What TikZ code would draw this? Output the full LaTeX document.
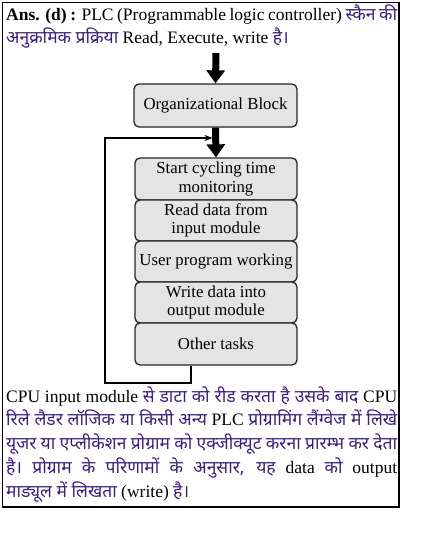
\documentclass[tikz,border=0pt]{standalone}
\usepackage{fontspec}
\setmainfont{Liberation Serif}
\newfontfamily\deva[Script=Devanagari]{Noto Sans}
\usetikzlibrary{arrows.meta}
\definecolor{hin}{RGB}{60,30,120}
\definecolor{boxfill}{RGB}{228,228,228}
\newcommand{\hi}[1]{{\deva\color{hin}#1}}
\begin{document}
\begin{tikzpicture}[x=1pt,y=-1pt,
  blk/.style={draw=black!85, fill=boxfill, rounded corners=5pt, line width=1.3pt,
    minimum width=162pt, inner sep=0pt, align=center,
    font=\fontsize{16.8}{18.5}\selectfont},
  txt/.style={anchor=base west, inner sep=0pt, font=\fontsize{17.5}{23}\selectfont},
  bigarrow/.style={line width=7pt, -{Triangle[width=18pt,length=13pt]}},
  looparrow/.style={line width=1.3pt, -{Stealth[length=8pt,width=6pt]}}]
\useasboundingbox (0,0) rectangle (446,538);
\draw[line width=1.2pt] (2.5,2.5) rectangle (399,507);

\node[txt] (t1) at (6,20) {\makebox[391pt][s]{\textbf{Ans. (d) :} PLC (Programmable logic controller) \hi{स्कैन की}}};
\node[txt] (t2) at (6,43) {\hi{अनुक्रमिक प्रक्रिया} Read, Execute, write \hi{है।}};

\node[blk, minimum width=163pt, minimum height=43pt] (ob) at (215.5,105.5) {Organizational Block};
\node[blk, minimum height=42pt] (s1) at (216,179) {Start cycling time\\monitoring};
\node[blk, minimum height=41pt] (s2) at (216,220.5) {Read data from\\input module};
\node[blk, minimum height=41pt] (s3) at (216,261.5) {User program working};
\node[blk, minimum height=41pt] (s4) at (216,302.5) {Write data into\\output module};
\node[blk, minimum height=42pt] (s5) at (216,344) {Other tasks};

\coordinate (top) at (216,53);
\coordinate (lend) at (212.5,138);
\draw[bigarrow] (top) -- (ob.north);
\draw[bigarrow] (ob.south) -- (s1.north);
\draw[looparrow] ([xshift=-25pt]s5.south) |- (105,383) |- (lend);

\node[txt] (b1) at (6,402) {\makebox[391pt][s]{CPU input module \hi{से डाटा को रीड करता है उसके बाद} CPU}};
\node[txt] (b2) at (6,425) {\makebox[391pt][s]{\hi{रिले लैडर लॉजिक या किसी अन्य} PLC \hi{प्रोग्रामिंग लैंग्वेज में लिखे}}};
\node[txt] (b3) at (6,449) {\makebox[391pt][s]{\hi{यूजर या एप्लीकेशन प्रोग्राम को एक्जीक्यूट करना प्रारम्भ कर देता}}};
\node[txt] (b4) at (6,473) {\makebox[391pt][s]{\hi{है। प्रोग्राम के परिणामों के अनुसार, यह} data \hi{को} output}};
\node[txt] (b5) at (6,497) {\hi{माड्यूल में लिखता} (write) \hi{है।}};
\end{tikzpicture}
\end{document}
